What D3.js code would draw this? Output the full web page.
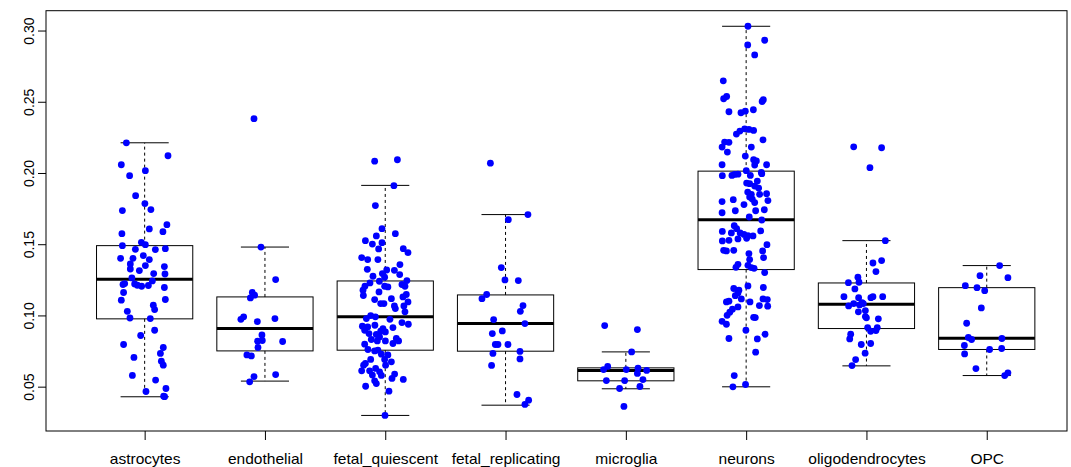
<!DOCTYPE html>
<html>
<head>
<meta charset="utf-8">
<script src="https://cdn.jsdelivr.net/npm/d3@7"></script>
<style>
  html, body { margin: 0; padding: 0; background: #fff; }
  svg { display: block; }
  text { font-family: "Liberation Sans", Arial, Helvetica, sans-serif; fill: #000; }
</style>
</head>
<body>
<svg id="chart" width="1071" height="467"></svg>
<script>
// Cell types on the x axis
const categories = ["astrocytes", "endothelial", "fetal_quiescent", "fetal_replicating",
                    "microglia", "neurons", "oligodendrocytes", "OPC"];

// Per-sample scores, one array per cell type, with each sample's horizontal jitter (category units)
const astrocytesValues = [0.2212,0.2121,0.2058,0.2016,0.1981,0.1841,0.1785,0.1743,0.1736,0.1637,
  0.1607,0.1588,0.1574,0.1513,0.1497,0.1490,0.1464,0.1462,0.1469,0.1420,
  0.1401,0.1401,0.1392,0.1361,0.1350,0.1343,0.1326,0.1315,0.1294,0.1291,
  0.1263,0.1242,0.1224,0.1217,0.1221,0.1212,0.1205,0.1210,0.1196,0.1161,
  0.1107,0.1112,0.1072,0.1041,0.1029,0.0982,0.0978,0.0896,0.0859,0.0796,
  0.0775,0.0733,0.0705,0.0679,0.0651,0.0579,0.0546,0.0487,0.0466,0.0433,0.0430];
const astrocytesJitter = [-0.152,0.194,-0.194,0.006,-0.125,-0.075,0.002,0.052,-0.185,0.185,
  0.039,0.152,-0.189,-0.027,0.006,-0.185,-0.077,0.089,0.172,-0.011,
  -0.2,-0.097,0.039,-0.119,0.006,0.164,-0.119,-0.044,0.075,0.169,
  -0.106,0.064,-0.166,-0.180,-0.083,-0.061,-0.025,0.031,0.164,-0.175,
  -0.194,0.172,0.072,0.083,-0.144,-0.122,0.047,0.083,-0.033,-0.175,
  0.155,0.131,-0.089,0.139,0.155,-0.102,0.091,0.177,0.011,0.158,0.166];

const endothelialValues = [0.2381,0.1480,0.1252,0.1161,0.1142,0.1123,0.0990,0.0973,0.0978,0.0957,
  0.0863,0.0819,0.0824,0.0817,0.0775,0.0723,0.0716,0.0585,0.0571,0.0534];
const endothelialJitter = [-0.091,-0.033,0.089,-0.105,-0.086,-0.121,-0.177,-0.2,0.083,-0.063,
  -0.025,-0.061,-0.022,0.147,-0.058,-0.150,-0.113,0.089,-0.091,-0.127];

const fetalQuiescentValues = [0.2083,0.2093,0.1911,0.1771,0.1609,0.1558,0.1574,0.1525,0.1501,0.1511,
  0.1467,0.1469,0.1441,0.1406,0.1392,0.1392,0.1357,0.1324,0.1319,0.1317,
  0.1294,0.1287,0.1275,0.1268,0.1240,0.1228,0.1245,0.1205,0.1217,0.1205,
  0.1205,0.1200,0.1177,0.1165,0.1140,0.1147,0.1130,0.1118,0.1111,0.1095,
  0.1083,0.1083,0.1067,0.1067,0.1048,0.1025,0.0999,0.0990,0.0978,0.0973,
  0.0950,0.0938,0.0931,0.0924,0.0919,0.0908,0.0915,0.0896,0.0889,0.0884,
  0.0873,0.0866,0.0849,0.0838,0.0831,0.0821,0.0821,0.0821,0.0803,0.0798,
  0.0761,0.0751,0.0756,0.0728,0.0723,0.0691,0.0691,0.0674,0.0663,0.0651,
  0.0651,0.0628,0.0611,0.0611,0.0604,0.0588,0.0581,0.0579,0.0558,0.0551,
  0.0541,0.0522,0.0503,0.0468,0.0298];
const fetalQuiescentJitter = [-0.088,0.101,0.072,-0.082,-0.027,-0.074,0.084,-0.165,-0.107,-0.027,
  -0.055,0.150,0.189,-0.196,-0.146,-0.061,0.122,-0.149,0.012,0.076,
  -0.024,0.120,-0.102,-0.005,-0.049,-0.127,0.180,-0.169,0.139,0.164,
  -0.005,0.022,-0.185,-0.052,-0.182,0.175,0.147,0.051,-0.088,0.189,
  -0.038,-0.011,0.076,0.155,0.084,0.164,-0.121,-0.082,-0.157,0.039,
  0.139,0.192,-0.086,-0.190,-0.146,-0.019,0.064,-0.171,-0.038,0.001,
  -0.135,-0.074,-0.047,0.092,-0.116,0.001,0.111,-0.066,0.064,-0.171,
  -0.144,-0.088,-0.061,-0.032,0.022,-0.121,-0.005,0.051,-0.165,-0.180,
  0.003,-0.080,-0.196,-0.130,-0.047,0.078,-0.107,-0.032,0.056,0.150,
  -0.088,-0.074,-0.163,0.031,-0.002];

const fetalReplicatingValues = [0.2069,0.1708,0.1672,0.1336,0.1249,0.1245,0.1147,0.1118,0.1069,0.1029,
  0.0971,0.0943,0.0891,0.0873,0.0796,0.0796,0.0796,0.0733,0.0747,0.0695,
  0.0649,0.0445,0.0405,0.0375];
const fetalReplicatingJitter = [-0.126,0.186,0.023,-0.035,-0.005,0.106,-0.157,-0.196,0.145,0.123,
  -0.099,0.161,-0.027,-0.110,-0.085,-0.063,0.020,-0.105,0.120,0.120,
  -0.116,0.095,0.192,0.161];

const microgliaValues = [0.0929,0.0901,0.0744,0.0642,0.0620,0.0620,0.0630,0.0593,0.0614,0.0543,
  0.0543,0.0550,0.0501,0.0487,0.0361];
const microgliaJitter = [-0.176,0.096,0.048,-0.151,-0.185,0.004,0.101,0.096,0.173,-0.162,
  -0.010,0.142,0.117,-0.052,-0.016];

const neuronsValues = [0.3030,0.2932,0.2899,0.2829,0.2647,0.2537,0.2521,0.2514,0.2502,0.2430,
  0.2423,0.2434,0.2444,0.2273,0.2294,0.2310,0.2306,0.2299,0.2217,0.2215,
  0.2182,0.2233,0.2147,0.2182,0.2119,0.2093,0.2084,0.2058,0.2056,0.2058,
  0.1981,0.1983,0.1990,0.1992,0.2016,0.1983,0.2004,0.1995,0.1943,0.1929,
  0.1925,0.1908,0.1894,0.1866,0.1850,0.1850,0.1855,0.1831,0.1817,0.1813,
  0.1799,0.1806,0.1792,0.1778,0.1742,0.1735,0.1735,0.1721,0.1691,0.1670,
  0.1630,0.1609,0.1590,0.1593,0.1579,0.1579,0.1569,0.1560,0.1558,0.1537,
  0.1541,0.1527,0.1523,0.1497,0.1457,0.1453,0.1457,0.1453,0.1434,0.1406,
  0.1392,0.1359,0.1338,0.1352,0.1336,0.1331,0.1301,0.1207,0.1196,0.1189,
  0.1177,0.1139,0.1158,0.1116,0.1116,0.1111,0.1095,0.1100,0.1095,0.1060,
  0.1069,0.1065,0.1044,0.1023,0.1001,0.0987,0.0985,0.0959,0.0938,0.0896,
  0.0868,0.0838,0.0835,0.0742,0.0578,0.0499,0.0515];
const neuronsJitter = [0.015,0.154,0.013,0.071,-0.190,-0.162,-0.187,0.143,0.133,-0.143,
  -0.043,-0.007,0.060,-0.081,-0.052,-0.012,0.023,0.062,-0.179,-0.143,
  -0.2,0.140,-0.156,0.043,-0.007,0.062,0.085,-0.2,0.071,0.170,
  -0.198,-0.118,-0.096,-0.068,0.001,0.035,0.126,0.130,0.093,0.004,
  0.029,0.071,0.104,0.013,0.043,0.112,0.170,0.029,0.051,-0.107,
  -0.2,0.181,0.071,-0.018,0.151,0.079,-0.090,-0.2,0.026,0.130,
  -0.099,-0.079,-0.198,0.121,-0.123,-0.050,-0.018,0.015,0.057,-0.068,
  0.004,-0.143,-0.198,0.173,-0.187,-0.164,-0.103,0.137,0.023,0.145,
  0.029,-0.068,-0.085,0.015,0.043,0.066,0.154,0.015,0.143,-0.103,
  -0.060,-0.090,-0.068,-0.040,0.140,0.176,-0.164,-0.143,0.032,-0.068,
  0.110,0.179,-0.114,-0.136,-0.158,0.062,0.076,-0.2,-0.164,-0.002,
  0.157,-0.143,0.093,0.079,-0.099,-0.110,-0.005];

const oligodendrocytesValues = [0.2184,0.2177,0.2037,0.1525,0.1368,0.1385,0.1308,0.1268,0.1230,0.1233,
  0.1186,0.1132,0.1125,0.1125,0.1132,0.1132,0.1083,0.1090,0.1067,0.1074,
  0.1083,0.1025,0.1034,0.0992,0.0983,0.0976,0.0915,0.0915,0.0889,0.0894,
  0.0868,0.0835,0.0796,0.0803,0.0735,0.0690,0.0648];
const oligodendrocytesJitter = [-0.106,0.126,0.029,0.157,0.054,0.126,0.079,-0.071,-0.150,-0.062,
  -0.096,-0.187,-0.065,0.037,0.054,0.135,-0.106,-0.037,-0.148,-0.057,
  -0.026,-0.067,-0.009,-0.009,0.0,0.099,0.010,0.090,0.035,0.079,
  -0.131,-0.139,-0.043,0.035,-0.011,-0.090,-0.120];

const opcValues = [0.1350,0.1279,0.1265,0.1209,0.1195,0.1174,0.1053,0.0945,0.0845,0.0831,
  0.0838,0.0789,0.0761,0.0768,0.0730,0.0627,0.0578,0.0597];
const opcJitter = [0.107,-0.056,0.176,-0.178,-0.081,-0.017,-0.045,-0.167,-0.153,-0.126,
  0.126,-0.186,0.024,0.124,-0.184,-0.090,0.149,0.176];

// Box-and-whisker summaries per cell type
const whiskerLow  = [0.0429, 0.0539, 0.0298, 0.0370, 0.0485, 0.0499, 0.0646, 0.0578];
const quartile1   = [0.0976, 0.0751, 0.0756, 0.0749, 0.0541, 0.1322, 0.0908, 0.0761];
const medians     = [0.1254, 0.0908, 0.0990, 0.0943, 0.0614, 0.1672, 0.1079, 0.0840];
const quartile3   = [0.1490, 0.1130, 0.1242, 0.1144, 0.0632, 0.2013, 0.1228, 0.1195];
const whiskerHigh = [0.2212, 0.1480, 0.1913, 0.1708, 0.0744, 0.3030, 0.1525, 0.1350];

// y axis ticks
const yTicks = [0.05, 0.10, 0.15, 0.20, 0.25, 0.30];
const yTickLabels = ["0.05", "0.10", "0.15", "0.20", "0.25", "0.30"];

// ---- assemble groups ----
const groupValues = [astrocytesValues, endothelialValues, fetalQuiescentValues, fetalReplicatingValues,
                     microgliaValues, neuronsValues, oligodendrocytesValues, opcValues];
const groupJitter = [astrocytesJitter, endothelialJitter, fetalQuiescentJitter, fetalReplicatingJitter,
                     microgliaJitter, neuronsJitter, oligodendrocytesJitter, opcJitter];

const points = [];
groupValues.forEach((vals, gi) => {
  const jit = groupJitter[gi];
  const n = Math.min(vals.length, jit.length);
  for (let i = 0; i < n; i++) points.push({ group: gi, value: vals[i], jitter: jit[i] });
});

const boxes = categories.map((c, i) => ({
  name: c, pos: i + 1,
  lo: whiskerLow[i], q1: quartile1[i], med: medians[i], q3: quartile3[i], hi: whiskerHigh[i]
}));

// ---- layout ----
const plotLeft = 46, plotTop = 10.7, plotBottom = 431, plotRight = 1067;
const unit = 120.3;
const nCat = categories.length;

// R-style 4% range extension on both axes
const allVals = points.map(p => p.value).concat(whiskerLow, whiskerHigh);
const yMin = d3.min(allVals), yMax = d3.max(allVals);
const yPad = (yMax - yMin) * 0.04;

const x = d3.scaleLinear()
  .domain([0.5 - 0.04 * nCat, nCat + 0.5 + 0.04 * nCat])
  .range([plotLeft, plotLeft + unit * nCat * 1.08]);
const y = d3.scaleLinear()
  .domain([yMin - yPad, yMax + yPad])
  .range([plotBottom, plotTop]);

const svg = d3.select("#chart");
svg.append("rect").attr("width", 1071).attr("height", 467).attr("fill", "#fff");

const boxHalf = x(1.4) - x(1);     // boxwex 0.8
const stapleHalf = boxHalf / 2;    // staplewex 0.5

const gBox = svg.append("g").attr("class", "boxes");
boxes.forEach(b => {
  const cx = x(b.pos);
  // whiskers (dashed)
  gBox.append("line").attr("x1", cx).attr("x2", cx).attr("y1", y(b.q3)).attr("y2", y(b.hi))
    .attr("stroke", "#000").attr("stroke-width", 1).attr("stroke-dasharray", "3,3");
  gBox.append("line").attr("x1", cx).attr("x2", cx).attr("y1", y(b.q1)).attr("y2", y(b.lo))
    .attr("stroke", "#000").attr("stroke-width", 1).attr("stroke-dasharray", "3,3");
  // staples
  [b.lo, b.hi].forEach(v => {
    gBox.append("line").attr("x1", cx - stapleHalf).attr("x2", cx + stapleHalf)
      .attr("y1", y(v)).attr("y2", y(v)).attr("stroke", "#000").attr("stroke-width", 1);
  });
  // box
  gBox.append("rect").attr("x", cx - boxHalf).attr("y", y(b.q3))
    .attr("width", 2 * boxHalf).attr("height", y(b.q1) - y(b.q3))
    .attr("fill", "none").attr("stroke", "#000").attr("stroke-width", 1);
  // median
  gBox.append("line").attr("x1", cx - boxHalf).attr("x2", cx + boxHalf)
    .attr("y1", y(b.med)).attr("y2", y(b.med))
    .attr("stroke", "#000").attr("stroke-width", 3);
});

// jittered samples
svg.append("g").attr("class", "points")
  .selectAll("circle").data(points).join("circle")
  .attr("cx", d => x(d.group + 1 + d.jitter))
  .attr("cy", d => y(d.value))
  .attr("r", 3.4)
  .attr("fill", "#0000ff");

// frame
svg.append("rect").attr("x", plotLeft).attr("y", plotTop)
  .attr("width", plotRight - plotLeft).attr("height", plotBottom - plotTop)
  .attr("fill", "none").attr("stroke", "#000").attr("stroke-width", 1);

// y axis
const yAxis = d3.axisLeft(y).tickValues(yTicks).tickFormat((d, i) => yTickLabels[i]).tickSize(8).tickPadding(0);
const gy = svg.append("g").attr("transform", `translate(${plotLeft},0)`).call(yAxis);
gy.select(".domain").attr("d", `M-8,${y(yTicks[0])}H0V${y(yTicks[yTicks.length - 1])}H-8`).attr("stroke", "none");
gy.selectAll(".tick line").attr("stroke", "#000");
gy.selectAll(".tick text")
  .attr("x", null).attr("dy", null)
  .attr("transform", "translate(-12,0) rotate(-90)")
  .attr("text-anchor", "middle")
  .style("font-size", "14px");

// x axis
const xAxis = d3.axisBottom(x).tickValues(d3.range(1, nCat + 1)).tickFormat((d) => categories[d - 1]).tickSize(9).tickPadding(0);
const gx = svg.append("g").attr("transform", `translate(0,${plotBottom})`).call(xAxis);
gx.select(".domain").attr("stroke", "none");
gx.selectAll(".tick line").attr("stroke", "#000");
gx.selectAll(".tick text")
  .attr("y", null).attr("dy", null)
  .attr("transform", "translate(0,33) scale(1.11,1)")
  .attr("text-anchor", "middle")
  .style("font-size", "14px");
svg.selectAll(".tick text").attr("font-family", null).attr("fill", "#000");
</script>
</body>
</html>
